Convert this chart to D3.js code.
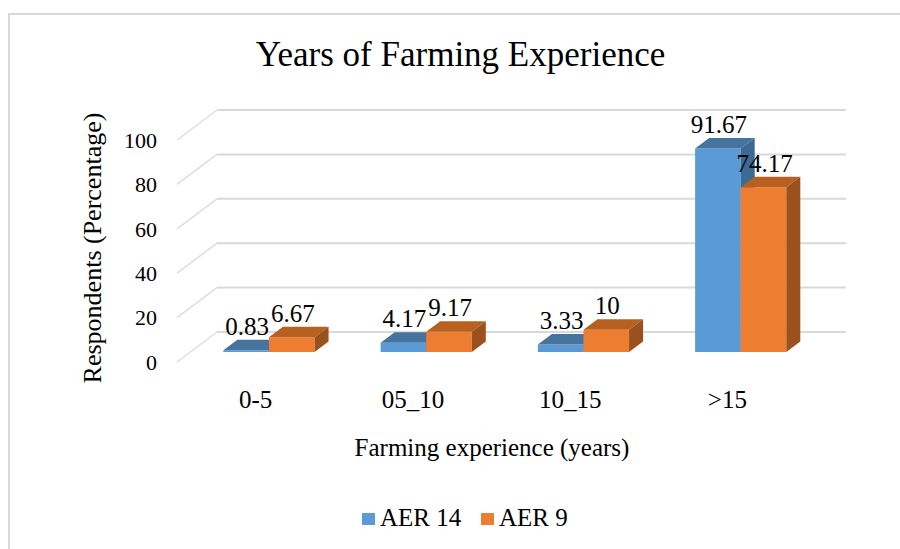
<!DOCTYPE html>
<html>
<head>
<meta charset="utf-8">
<script src="https://cdn.jsdelivr.net/npm/d3@7"></script>
<style>
  body { margin: 0; background: #fff; }
</style>
</head>
<body>
<script>
// chart data
const categories = ["0-5", "05_10", "10_15", ">15"];
const seriesNames = ["AER 14", "AER 9"];
const aer14 = [0.83, 4.17, 3.33, 91.67];
const aer9 = [6.67, 9.17, 10, 74.17];
const yTicks = [0, 20, 40, 60, 80, 100];

const width = 900;
const height = 549;
const serif = "'Liberation Serif', 'Times New Roman', serif";

// colours per series: front, top, side
const colors = {
  "AER 14": { front: "#5b9bd5", top: "#46749f", side: "#3c6a94" },
  "AER 9": { front: "#ed7d31", top: "#b7601f", side: "#9b511d" }
};

// fake 3d: depth t goes 0 (front floor edge) -> 1 (back wall)
const depthX = 40, depthY = -30;
const barFront = 1 / 3, barDepth = 0.35;

const svg = d3.select("body").append("svg")
  .attr("width", width)
  .attr("height", height)
  .attr("font-family", serif);

// outer frame
svg.append("rect")
  .attr("x", 9).attr("y", 14)
  .attr("width", 1000).attr("height", 700)
  .attr("fill", "#fff")
  .attr("stroke", "#d9d9d9")
  .attr("stroke-width", 2);

// scales on the front plane
const x = d3.scaleBand()
  .domain(categories)
  .range([177, 806])
  .paddingInner(0.42)
  .paddingOuter(0.21);

const xs = d3.scaleBand()
  .domain(seriesNames)
  .range([0, x.bandwidth()]);

const y = d3.scaleLinear()
  .domain([0, 100])
  .range([362, 140]);

function proj(px, v, t) {
  return [px + depthX * t, y(v) + depthY * t];
}

// gridlines: floor diagonal + back wall
const grid = svg.append("g");
yTicks.forEach(v => {
  const a = proj(x.range()[0], v, 0);
  const b = proj(x.range()[0], v, 1);
  const c = proj(x.range()[1], v, 1);
  grid.append("line")
    .attr("x1", a[0]).attr("y1", a[1])
    .attr("x2", b[0]).attr("y2", b[1])
    .attr("stroke", "#dedede").attr("stroke-width", 1.5);
  grid.append("line")
    .attr("x1", b[0]).attr("y1", b[1])
    .attr("x2", c[0]).attr("y2", c[1])
    .attr("stroke", "#d9d9d9").attr("stroke-width", 2);
});

// y tick labels
svg.append("g")
  .selectAll("text")
  .data(yTicks)
  .join("text")
  .attr("x", 157)
  .attr("y", d => y(d))
  .attr("dy", "0.35em")
  .attr("text-anchor", "end")
  .attr("font-family", serif)
  .attr("font-size", 22)
  .text(d => d);

// bars
const rows = [];
categories.forEach((c, i) => {
  rows.push({ cat: c, name: "AER 14", value: aer14[i] });
  rows.push({ cat: c, name: "AER 9", value: aer9[i] });
});

const bars = svg.append("g");
rows.forEach(d => {
  const x0 = x(d.cat) + xs(d.name);
  const x1 = x0 + xs.bandwidth();
  const fb = proj(x0, 0, barFront), fb1 = proj(x1, 0, barFront);
  const ft = proj(x0, d.value, barFront), ft1 = proj(x1, d.value, barFront);
  const bt = proj(x0, d.value, barFront + barDepth), bt1 = proj(x1, d.value, barFront + barDepth);
  const bb1 = proj(x1, 0, barFront + barDepth);
  const col = colors[d.name];
  // front
  bars.append("path")
    .attr("d", d3.line()([fb, fb1, ft1, ft]) + "Z")
    .attr("fill", col.front);
  // top
  bars.append("path")
    .attr("d", d3.line()([ft, ft1, bt1, bt]) + "Z")
    .attr("fill", col.top);
  // side
  bars.append("path")
    .attr("d", d3.line()([fb1, bb1, bt1, ft1]) + "Z")
    .attr("fill", col.side);
});

// data labels
svg.append("g")
  .selectAll("text")
  .data(rows)
  .join("text")
  .attr("x", d => proj(x(d.cat) + xs(d.name) + xs.bandwidth() / 2, 0, barFront)[0] + 1)
  .attr("y", d => proj(0, d.value, barFront + barDepth)[1] - 5)
  .attr("text-anchor", "middle")
  .attr("font-family", serif)
  .attr("font-size", 25)
  .text(d => d.value);

// category labels
svg.append("g")
  .selectAll("text")
  .data(categories)
  .join("text")
  .attr("x", d => x(d) + x.bandwidth() / 2)
  .attr("y", 408)
  .attr("text-anchor", "middle")
  .attr("font-family", serif)
  .attr("font-size", 25)
  .text(d => d);

// title
svg.append("text")
  .attr("x", 460.5)
  .attr("y", 66)
  .attr("text-anchor", "middle")
  .attr("font-family", serif)
  .attr("font-size", 35)
  .text("Years of Farming Experience");

// axis titles
svg.append("text")
  .attr("x", 492)
  .attr("y", 456)
  .attr("text-anchor", "middle")
  .attr("font-family", serif)
  .attr("font-size", 25)
  .text("Farming experience (years)");

svg.append("text")
  .attr("transform", "translate(101,248) rotate(-90)")
  .attr("text-anchor", "middle")
  .attr("font-family", serif)
  .attr("font-size", 26)
  .text("Respondents (Percentage)");

// legend
const legend = svg.append("g")
  .selectAll("g")
  .data(seriesNames)
  .join("g")
  .attr("transform", (d, i) => `translate(${362 + i * 119},513)`);

legend.append("rect")
  .attr("width", 13)
  .attr("height", 12)
  .attr("fill", d => colors[d].front);

legend.append("text")
  .attr("x", 18)
  .attr("y", 13)
  .attr("font-family", serif)
  .attr("font-size", 25)
  .text(d => d);
</script>
</body>
</html>
